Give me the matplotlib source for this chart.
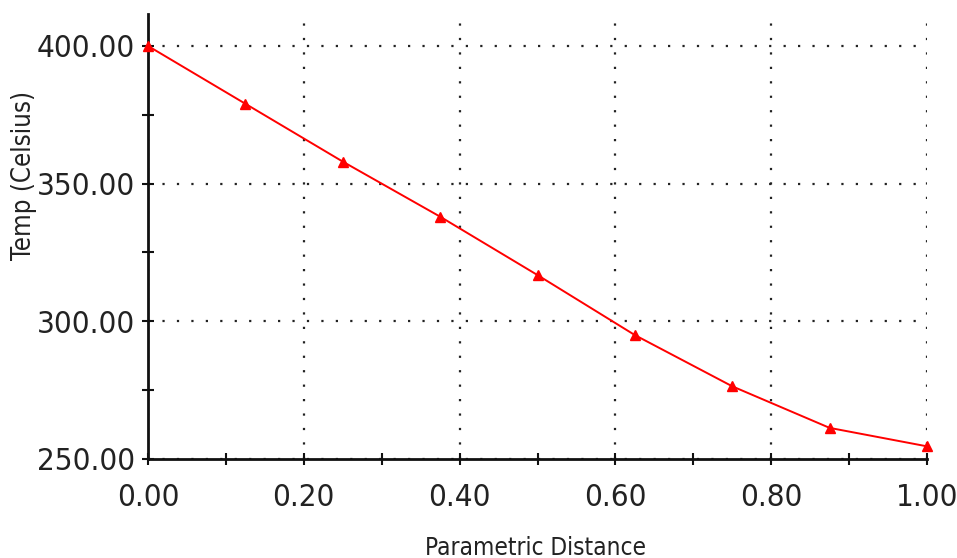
import matplotlib.pyplot as plt
from matplotlib.ticker import MultipleLocator, FormatStrFormatter

# values
distance = [0.0, 0.125, 0.25, 0.375, 0.5, 0.625, 0.75, 0.875, 1.0]
temp = [400.0, 379.0, 358.0, 338.0, 316.8, 295.0, 276.4, 261.3, 254.6]

xLabel = "Parametric Distance"
yLabel = "Temp (Celsius)"

plt.rcParams["font.family"] = ["DejaVu Sans"]
plt.rcParams["font.stretch"] = "condensed"

fig = plt.figure(figsize=(9.57, 5.58), dpi=100)
ax = fig.add_axes([148 / 957, 99 / 558, 779 / 957, 445 / 558])

ax.plot(distance, temp, color="#ff0000", linewidth=1.4, marker="^",
        markersize=7, clip_on=False, zorder=3)

ax.set_xlim(0, 1.0)
ax.set_ylim(250, 411.6)

ax.xaxis.set_major_locator(MultipleLocator(0.2))
ax.xaxis.set_minor_locator(MultipleLocator(0.1))
ax.yaxis.set_major_locator(MultipleLocator(50))
ax.yaxis.set_minor_locator(MultipleLocator(25))
ax.xaxis.set_major_formatter(FormatStrFormatter("%.2f"))
ax.yaxis.set_major_formatter(FormatStrFormatter("%.2f"))

for side in ["top", "right"]:
    ax.spines[side].set_visible(False)
for side in ["left", "bottom"]:
    ax.spines[side].set_linewidth(2)
    ax.spines[side].set_color("#111111")

ax.tick_params(which="both", direction="inout", length=9, width=1.5,
               color="#111111", labelsize=22.5, labelcolor="#222222")
ax.tick_params(axis="x", pad=13)
ax.tick_params(axis="y", pad=5)

ax.grid(True, which="major", color="#222222", linestyle=(0, (1, 5.5)),
        linewidth=1.6)

ax.set_xlabel(xLabel, fontsize=17.5, color="#222222")
ax.set_ylabel(yLabel, fontsize=18.5, color="#222222")
ax.xaxis.set_label_coords(0.498, -0.172)
ax.yaxis.set_label_coords(-0.142, 0.638)

fig.savefig("out.png", dpi=100)
